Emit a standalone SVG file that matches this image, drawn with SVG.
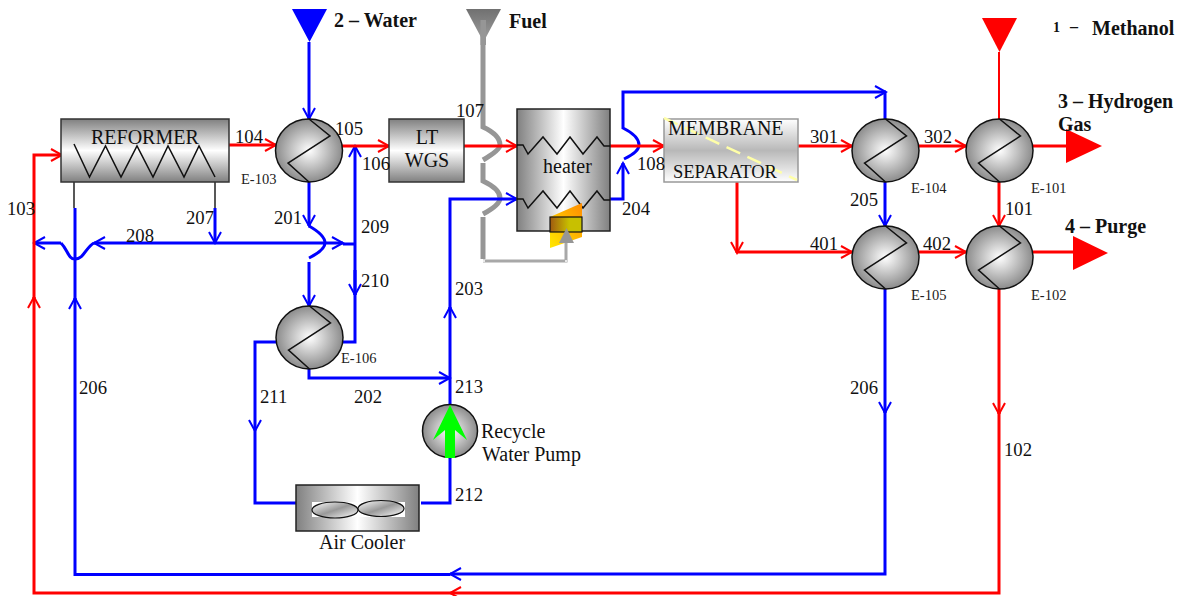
<svg xmlns="http://www.w3.org/2000/svg" width="1177" height="596" viewBox="0 0 1177 596">
<style>
text{font-family:"Liberation Serif","Times New Roman",serif;font-size:18.7px;fill:#111}
.b{font-weight:bold;font-size:20px}
.t{font-size:14.5px;fill:#222}
.u{font-size:20px}
.r,.bl,.g{fill:none}
.r{stroke:#f00;stroke-width:3}
.bl{stroke:#00f;stroke-width:3}
.g{stroke:#969696;stroke-width:5}
.c{fill:url(#sph);stroke:#111;stroke-width:1.5}
.z{fill:none;stroke:#111;stroke-width:1.5}
</style>
<defs>
<radialGradient id="sph" cx=".5" cy=".5" r=".55"><stop offset="0" stop-color="#fff"/><stop offset="1" stop-color="#808080"/></radialGradient>
<linearGradient id="vg" x1="0" y1="0" x2="0" y2="1"><stop offset="0" stop-color="#808080"/><stop offset=".5" stop-color="#fff"/><stop offset="1" stop-color="#808080"/></linearGradient>
<linearGradient id="hg" x1="0" y1="0" x2="1" y2="0"><stop offset="0" stop-color="#808080"/><stop offset=".5" stop-color="#fff"/><stop offset="1" stop-color="#808080"/></linearGradient>
<linearGradient id="mg" x1="0" y1="0" x2="0" y2="1"><stop offset="0" stop-color="#fff"/><stop offset=".5" stop-color="#b8b8b8"/><stop offset="1" stop-color="#fff"/></linearGradient>
<linearGradient id="fl" x1="0" y1="1" x2="1" y2="0"><stop offset="0" stop-color="#ffe800"/><stop offset="1" stop-color="#ff8c00"/></linearGradient>
<linearGradient id="bn" x1="0" y1="0" x2="1" y2="0"><stop offset="0" stop-color="#a05a10"/><stop offset=".6" stop-color="#c8c000"/><stop offset="1" stop-color="#c8c000"/></linearGradient>
<linearGradient id="fu" x1="0" y1="0" x2="0" y2="1"><stop offset="0" stop-color="#707070"/><stop offset="1" stop-color="#a0a0a0"/></linearGradient>
<linearGradient id="fa" x1="0" y1="0" x2="1" y2="1"><stop offset="0" stop-color="#fff"/><stop offset=".5" stop-color="#999"/><stop offset="1" stop-color="#fff"/></linearGradient>
<marker id="mr" markerUnits="userSpaceOnUse" markerWidth="14" markerHeight="16" refX="12" refY="8" orient="auto"><path d="M1 2L12 8L1 14" fill="none" stroke="#f00" stroke-width="2"/></marker>
<marker id="mb" markerUnits="userSpaceOnUse" markerWidth="14" markerHeight="16" refX="12" refY="8" orient="auto"><path d="M1 2L12 8L1 14" fill="none" stroke="#00f" stroke-width="2"/></marker>
<path id="zz" d="M0-31.5L21-14.5L-21 12.5L0 31.5" class="z"/>
</defs>
<g id="connectors">
<g class="g">
<path d="M483 20V127Q500 135 500 145Q500 150 483 160"/>
<path d="M483 163V181Q500 189 500 198Q500 205 483 214"/>
<path d="M483 217V259"/>
<path d="M483 261H566V240" stroke="#a8a8a8" stroke-width="3"/>
</g>
<circle cx="484" cy="261" r="1" fill="#fff"/><circle cx="566" cy="261" r="1" fill="#fff"/>
<g class="bl">
<path d="M309 42V119" marker-end="url(#mb)"/>
<path d="M309 182V226" marker-end="url(#mb)"/>
<path d="M309 226Q325 235 325 243Q325 250 309 258"/>
<path d="M309 262V306" marker-end="url(#mb)"/>
<path d="M215 243H94" marker-end="url(#mb)"/>
<path d="M215 243H343" marker-end="url(#mb)"/>
<path d="M343 244H355"/>
<path d="M94 243C86 247 84 259 75 259C68 259 68 250 61 243"/>
<path d="M61 243H34" marker-end="url(#mb)"/>
<path d="M215 208V243" marker-end="url(#mb)"/>
<path d="M355 295V146" marker-end="url(#mb)"/>
<path d="M355 270V295" marker-end="url(#mb)"/>
<path d="M343 342H355V294"/>
<path d="M276 342H255V431" marker-end="url(#mb)"/>
<path d="M255 431V503H296"/>
<path d="M309 369V378H450" marker-end="url(#mb)"/>
<path d="M421 503H450V458"/>
<path d="M450 405V307" marker-end="url(#mb)"/>
<path d="M450 310V199H517" marker-end="url(#mb)"/>
<path d="M610 199H623V163" marker-end="url(#mb)"/>
<path d="M624 159Q639 152 639 145Q639 136 623 128V92H886" marker-end="url(#mb)"/>
<path d="M885 92V119"/>
<path d="M885 182V226" marker-end="url(#mb)"/>
<path d="M885 289V413" marker-end="url(#mb)"/>
<path d="M885 410V574H450" marker-end="url(#mb)"/>
<path d="M450 574.500H75V298" marker-end="url(#mb)"/>
<path d="M75 300V208"/>
</g>
<path d="M74 144V208M215 177V208" fill="none" stroke="#222" stroke-width="1.500"/>
<g class="r">
<path d="M229 145H276" marker-end="url(#mr)"/>
<path d="M342 146H389" marker-end="url(#mr)"/>
<path d="M463 146H517" marker-end="url(#mr)"/>
<path d="M610 146H664" marker-end="url(#mr)"/>
<path d="M798 146H852" marker-end="url(#mr)"/>
<path d="M919 146H966" marker-end="url(#mr)"/>
<path d="M1033 146H1068"/>
<path d="M999 52V119" stroke-width="2"/>
<path d="M999 182V226" marker-end="url(#mr)"/>
<path d="M737 182V253" marker-end="url(#mr)"/>
<path d="M737 252H852" marker-end="url(#mr)"/>
<path d="M919 252H966" marker-end="url(#mr)"/>
<path d="M1033 252H1075"/>
<path d="M999 289V414" marker-end="url(#mr)"/>
<path d="M999 410V593H450" marker-end="url(#mr)"/>
<path d="M450 593H34V297" marker-end="url(#mr)"/>
<path d="M34 298V155H62" marker-end="url(#mr)"/>
</g>
<path d="M292 9H327L309.500 42Z" fill="#00f"/>
<path d="M466 9H501L483.500 42Z" fill="url(#fu)"/>
<path d="M480.500 20H486V45H480.500Z" fill="#969696"/>
<path d="M982 18H1017L999.500 52Z" fill="#f00"/>
<path d="M1066 129L1102 146L1066 163Z" fill="#f00"/>
<path d="M1073 236L1108 253L1073 270Z" fill="#f00"/>
</g>
<g id="reformer"><rect x="61" y="119" width="168" height="63" fill="url(#vg)" stroke="#333" stroke-width="1.500"/>
<path class="z" d="M74 144L89.500 177L105.500 146L121 177L137 146L153 177L168 146L184 177L199 146L215 177"/>
<text class="u" x="91" y="144">REFORMER</text></g>
<g id="E-103"><ellipse class="c" cx="309" cy="150.500" rx="33.500" ry="31.500"/><use href="#zz" x="309" y="150.500"/><text class="t" x="241" y="184">E-103</text></g>
<g id="lt-wgs"><rect x="389" y="119" width="75" height="63" fill="url(#vg)" stroke="#333" stroke-width="1.500"/><text class="u" x="427" y="144" text-anchor="middle">LT</text><text class="u" x="427" y="167" text-anchor="middle">WGS</text></g>
<g id="heater"><rect x="517" y="109" width="93" height="122" fill="url(#hg)" stroke="#222" stroke-width="1.500"/>
<path class="z" d="M517 145H523L528 154L543 137L557 154L570 137L583 154L597 137L604 146H610"/>
<path class="z" d="M517 199H523L528 208L543 191L557 208L570 191L583 208L597 191L604 200H610"/>
<text class="u" x="543" y="173">heater</text>
<path d="M550 217L582 203V237L550 248Z" fill="url(#fl)"/>
<rect x="550" y="217" width="32" height="15" fill="url(#bn)" stroke="#111" stroke-width="1.200"/>
<path d="M559 243L566.500 228L574 243Z" fill="#969696"/></g>
<g id="membrane"><rect x="664" y="119" width="134" height="63" fill="url(#mg)" stroke="#999" stroke-width="1.500"/>
<path d="M664 118L797 180" stroke="#ffffa8" stroke-width="2.500" stroke-dasharray="15 8" fill="none"/>
<text class="u" x="668" y="135">MEMBRANE</text><text x="673" y="178" style="font-size:18.500px">SEPARATOR</text></g>
<g id="E-104"><ellipse class="c" cx="885.500" cy="150.500" rx="33.500" ry="31.500"/><use href="#zz" x="885.500" y="150.500"/><text class="t" x="911" y="193">E-104</text></g>
<g id="E-101"><ellipse class="c" cx="999.500" cy="150.500" rx="33.500" ry="31.500"/><use href="#zz" x="999.500" y="150.500"/><text class="t" x="1031" y="193">E-101</text></g>
<g id="E-105"><ellipse class="c" cx="885.500" cy="257.500" rx="33.500" ry="31.500"/><use href="#zz" x="885.500" y="257.500"/><text class="t" x="911" y="300">E-105</text></g>
<g id="E-102"><ellipse class="c" cx="999.500" cy="257.500" rx="33.500" ry="31.500"/><use href="#zz" x="999.500" y="257.500"/><text class="t" x="1031" y="300">E-102</text></g>
<g id="E-106"><ellipse class="c" cx="309.500" cy="337.500" rx="33.500" ry="31.500"/><use href="#zz" x="309.500" y="337.500"/><text class="t" x="341" y="363">E-106</text></g>
<g id="pump"><ellipse class="c" cx="450" cy="431" rx="27.500" ry="26.500"/><path d="M450 405L467 440L455 430V458H445V430L433 440Z" fill="#0f0"/>
<text class="u" x="481" y="438">Recycle</text><text class="u" x="482" y="461">Water Pump</text></g>
<g id="air-cooler"><rect x="296" y="485" width="123" height="46" fill="url(#hg)" stroke="#222" stroke-width="1.500"/><rect x="312" y="502" width="93" height="15" fill="#fff"/>
<ellipse cx="335" cy="510" rx="23" ry="8" fill="url(#fa)" stroke="#111" stroke-width="1.200"/><ellipse cx="381" cy="508.500" rx="23" ry="8" fill="url(#fa)" stroke="#111" stroke-width="1.200"/>
<text class="u" x="319" y="549">Air Cooler</text></g>
<g id="labels">
<text x="235" y="143">104</text><text x="335" y="135">105</text><text x="362" y="170">106</text><text x="7" y="215">103</text><text x="186" y="224">207</text><text x="126" y="242">208</text><text x="274" y="224">201</text><text x="361" y="233">209</text><text x="361" y="287">210</text><text x="456" y="117">107</text><text x="637" y="170">108</text><text x="622" y="215">204</text><text x="455" y="295">203</text><text x="810" y="143">301</text><text x="924" y="143">302</text><text x="850" y="206">205</text><text x="810" y="250">401</text><text x="923" y="250">402</text><text x="1005" y="215">101</text><text x="260" y="403">211</text><text x="354" y="403">202</text><text x="455" y="393">213</text><text x="455" y="501">212</text><text x="79" y="394">206</text><text x="850" y="394">206</text><text x="1004" y="456">102</text>
<text class="b" x="334" y="27">2 – Water</text><text class="b" x="509" y="28">Fuel</text><text class="b" x="1053" y="32" style="font-size:14px">1</text><text class="b" x="1070" y="32" style="font-size:16px">–</text><text class="b" x="1092" y="35">Methanol</text><text class="b" x="1058" y="108">3 – Hydrogen</text><text class="b" x="1058" y="131">Gas</text><text class="b" x="1065" y="233">4 – Purge</text>
</g>
</svg>
